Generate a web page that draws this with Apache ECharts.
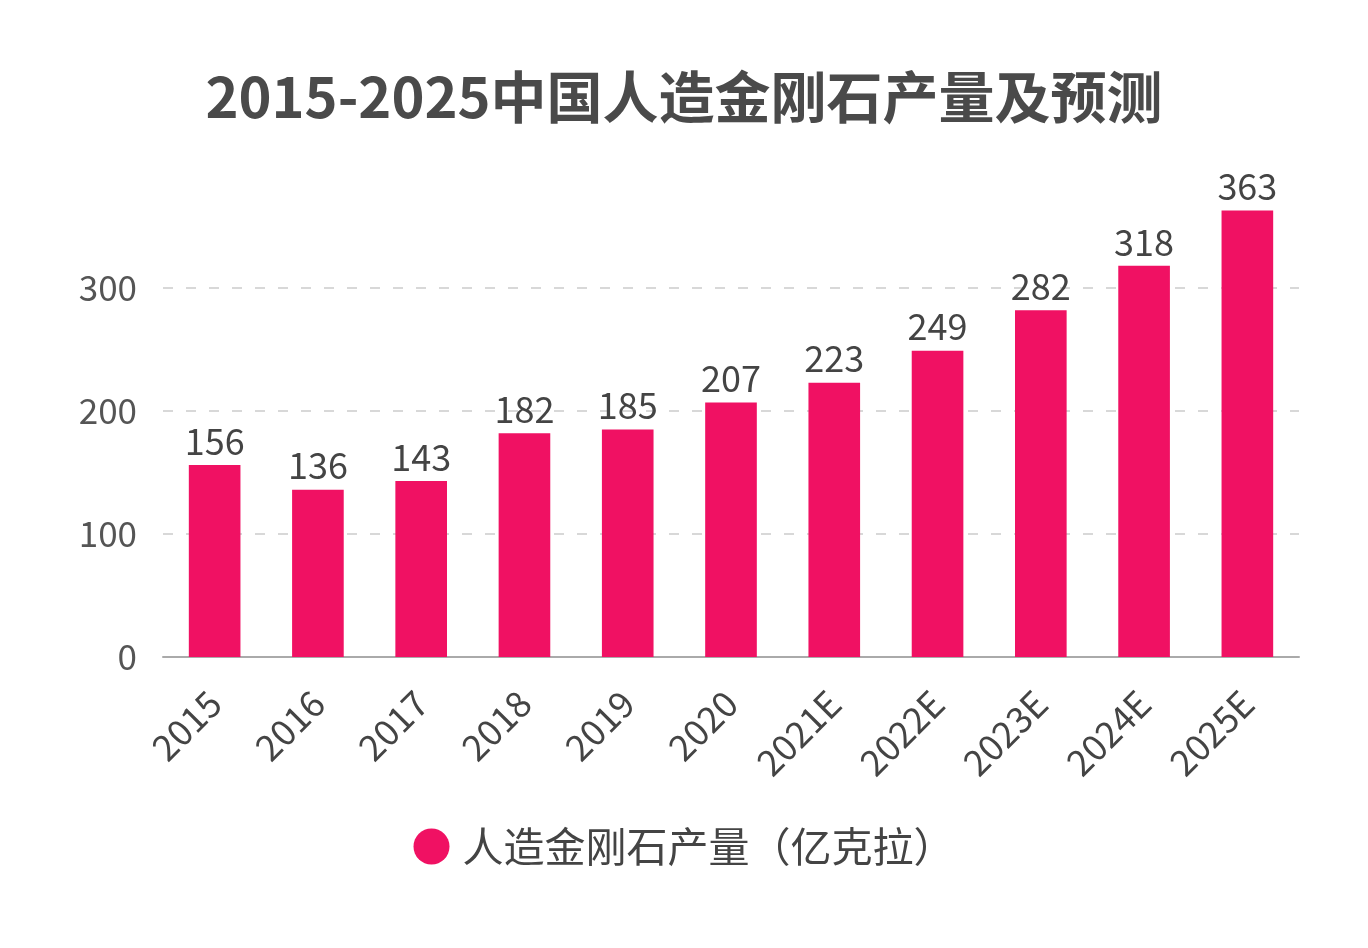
<!DOCTYPE html>
<html>
<head>
<meta charset="utf-8">
<script src="https://cdn.jsdelivr.net/npm/echarts@6/dist/echarts.min.js"></script>
<style>
    html, body { margin: 0; padding: 0; background: #fff; }
    #chart { width: 1368px; height: 948px; }
</style>
</head>
<body>
<div id="chart"></div>
<script>
const years = ['2015', '2016', '2017', '2018', '2019', '2020', '2021E', '2022E', '2023E', '2024E', '2025E'];
const output = [156, 136, 143, 182, 185, 207, 223, 249, 282, 318, 363];
const seriesName = '人造金刚石产量（亿克拉）';

const font = '"Noto Sans CJK SC", "Noto Sans", sans-serif';

let chart = echarts.init(document.getElementById('chart'));
let option = {
    animation: false,
    color: ['#f01163'],
    textStyle: { fontFamily: font },
    title: {
        text: '2015-2025中国人造金刚石产量及预测',
        left: 'center',
        top: 64,
        textStyle: { fontSize: 56, fontWeight: 'bold', color: '#4a4a4a', fontFamily: font }
    },
    legend: {
        bottom: 76,
        left: 'center',
        icon: 'circle',
        itemWidth: 36,
        itemHeight: 36,
        textStyle: { fontSize: 41, color: '#444', fontFamily: font, padding: [0, 0, 0, 8] },
        data: [seriesName]
    },
    grid: { left: 163, right: 69, top: 165, bottom: 291 },
    xAxis: {
        type: 'category',
        data: years,
        axisTick: { alignWithLabel: true, length: 8, lineStyle: { color: '#999' } },
        axisLine: { lineStyle: { color: '#aaa', width: 2 } },
        axisLabel: { rotate: 45, fontSize: 36, color: '#444', margin: 40, fontFamily: font }
    },
    yAxis: {
        type: 'value',
        min: 0,
        max: 400,
        interval: 100,
        axisLine: { show: false },
        axisTick: { show: false },
        axisLabel: {
            fontSize: 35, color: '#555', margin: 26, fontFamily: font,
            formatter: v => v === 400 ? '' : v
        },
        splitLine: { showMaxLine: false, lineStyle: { type: [10, 13], color: '#ccc', width: 1.5 } }
    },
    series: [
        {
            name: seriesName,
            type: 'bar',
            barWidth: '50%',
            data: output,
            label: { show: true, position: 'top', fontSize: 36, color: '#444', distance: 6, fontFamily: font }
        }
    ]
};
option && chart.setOption(option);
</script>
</body>
</html>
